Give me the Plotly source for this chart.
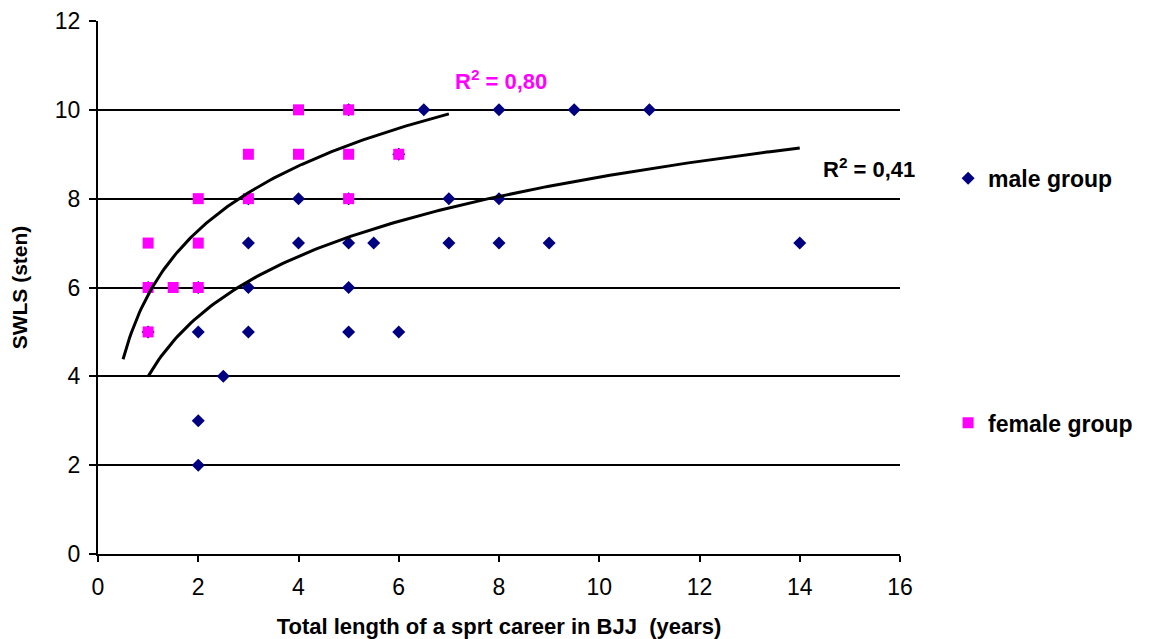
import numpy as np
import plotly.graph_objects as go

# ---- data ----
male_x = [1, 1, 2, 2, 2, 2, 2.5, 3, 3, 3, 3, 4, 4, 5, 5, 5, 5, 5, 5.5, 6, 6,
          6.5, 7, 7, 8, 8, 8, 9, 9.5, 11, 14]
male_y = [5, 6, 2, 3, 5, 6, 4, 5, 6, 7, 8, 7, 8, 5, 6, 7, 8, 10, 7, 5, 9,
          10, 7, 8, 7, 8, 10, 7, 10, 10, 7]

female_x = [1, 1, 1, 1.5, 2, 2, 2, 3, 3, 4, 4, 5, 5, 5, 6]
female_y = [5, 6, 7, 6, 6, 7, 8, 8, 9, 9, 10, 8, 9, 10, 9]

female_trend_range = [0.5, 7]
male_trend_range = [1, 14]

r2_female_label = "R<sup>2</sup> = 0,80"
r2_male_label = "R<sup>2</sup> = 0,41"

x_ticks = [0, 2, 4, 6, 8, 10, 12, 14, 16]
y_ticks = [0, 2, 4, 6, 8, 10, 12]

FONT = "Liberation Sans, Arial, sans-serif"
NAVY = "#000080"
MAGENTA = "#FF00FF"


def log_trend(xs, ys, rng):
    slope, intercept = np.polyfit(np.log(xs), ys, 1)
    cx = np.linspace(rng[0], rng[1], 200)
    return cx, slope * np.log(cx) + intercept


fig = go.Figure()

fig.add_trace(go.Scatter(
    x=male_x, y=male_y, mode="markers", name="male group",
    marker=dict(symbol="diamond", size=10, color=NAVY, line=dict(width=0)),
    legend="legend"))

fig.add_trace(go.Scatter(
    x=female_x, y=female_y, mode="markers", name="female group",
    marker=dict(symbol="square", size=11, color=MAGENTA, line=dict(width=0)),
    legend="legend2"))

fx, fy = log_trend(female_x, female_y, female_trend_range)
mx, my = log_trend(male_x, male_y, male_trend_range)

fig.add_trace(go.Scatter(x=fx, y=fy, mode="lines", showlegend=False,
                         line=dict(color="black", width=3), hoverinfo="skip"))
fig.add_trace(go.Scatter(x=mx, y=my, mode="lines", showlegend=False,
                         line=dict(color="black", width=3), hoverinfo="skip"))

fig.add_annotation(x=8.04, y=10.67, xref="x", yref="y", text=r2_female_label,
                   showarrow=False,
                   font=dict(family=FONT, size=22, color=MAGENTA, weight="bold"))
fig.add_annotation(x=15.38, y=8.69, xref="x", yref="y", text=r2_male_label,
                   showarrow=False,
                   font=dict(family=FONT, size=22, color="black", weight="bold"))

legend_font = dict(family=FONT, size=23, color="black", weight="bold")

# page body has an 8px margin, so the figure is sized/offset to compensate
fig.update_layout(
    width=1150, height=631,
    margin=dict(l=90, r=258, t=13, b=85),
    paper_bgcolor="white", plot_bgcolor="white",
    font=dict(family=FONT, color="black"),
    legend=dict(x=1.06, y=0.705, xanchor="left", yanchor="middle",
                font=legend_font, bgcolor="rgba(0,0,0,0)", borderwidth=0),
    legend2=dict(x=1.06, y=0.246, xanchor="left", yanchor="middle",
                 font=legend_font, bgcolor="rgba(0,0,0,0)", borderwidth=0),
    xaxis=dict(
        range=[0, 16], tickvals=x_ticks, ticktext=[str(v) for v in x_ticks],
        showgrid=False, zeroline=False, showline=True, linecolor="black",
        linewidth=2, ticks="outside", ticklen=6, tickwidth=2, tickcolor="black",
        ticklabelstandoff=5,
        tickfont=dict(family=FONT, size=23, color="black"),
        title=dict(text="Total length of a sprt career in BJJ  (years)",
                   font=dict(family=FONT, size=22, color="black", weight="bold"),
                   standoff=22),
        automargin=False),
    yaxis=dict(
        range=[0, 12], tickvals=y_ticks, ticktext=[str(v) for v in y_ticks],
        showgrid=True, gridcolor="black", gridwidth=1.5,
        zeroline=False, showline=True, linecolor="black",
        linewidth=2, ticks="outside", ticklen=7, tickwidth=2, tickcolor="black",
        ticklabelstandoff=4,
        tickfont=dict(family=FONT, size=23, color="black"),
        title=dict(text="SWLS (sten)",
                   font=dict(family=FONT, size=21, color="black", weight="bold"),
                   standoff=26),
        automargin=False),
)

fig.write_html("out.html")
